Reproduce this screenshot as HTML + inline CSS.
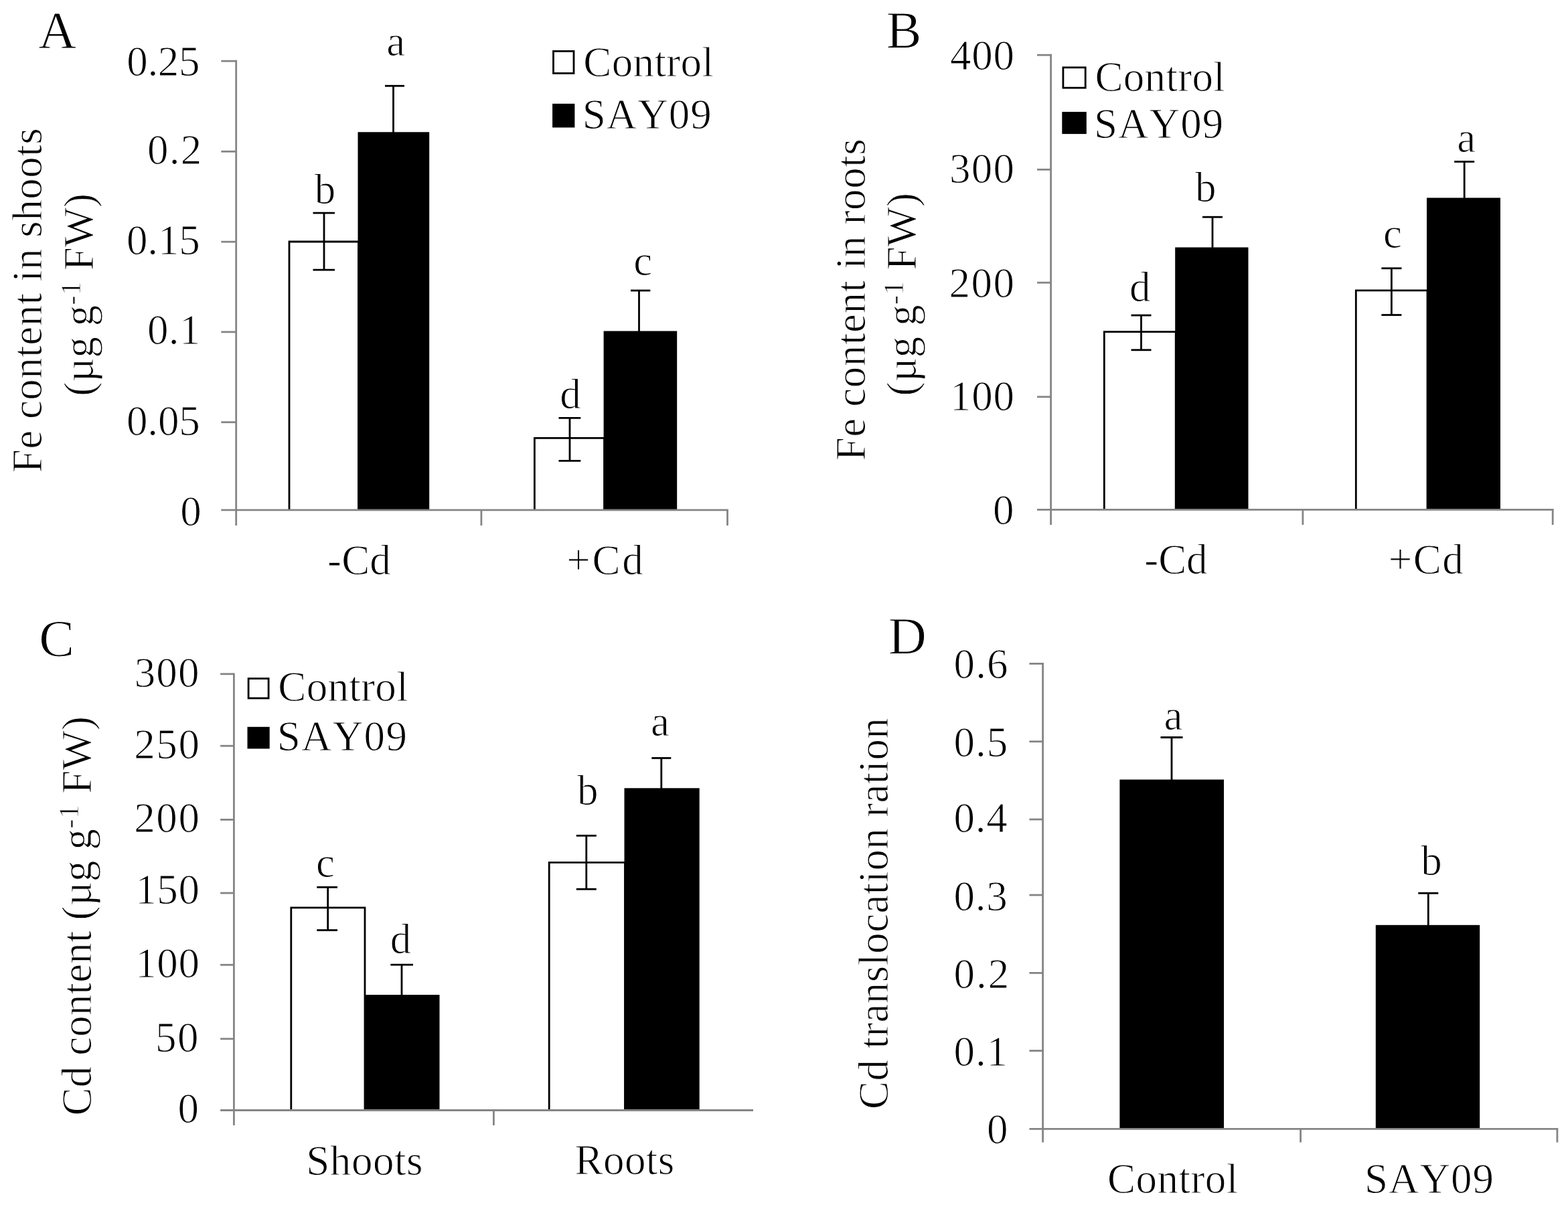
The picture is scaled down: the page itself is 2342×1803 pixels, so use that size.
<!DOCTYPE html>
<html lang="en">
<head>
<meta charset="utf-8">
<title>Fe and Cd content in shoots and roots</title>
<style>
html,body{margin:0;padding:0;background:#fff;}
body{width:2342px;height:1803px;}
svg{display:block;}
svg text{font-family:'Liberation Serif', 'Times New Roman', serif;fill:#000;stroke:#fff;stroke-width:1px;font-kerning:none;white-space:pre;}
</style>
</head>
<body>
<svg width="2342" height="1803" viewBox="0 0 2342 1803" role="img" aria-label="Bar charts A-D: Fe content in shoots and roots, Cd content, and Cd translocation ratio for Control and SAY09">
<rect x="0" y="0" width="2342" height="1803" fill="#fff"/>
<g id="panel-A">
<path d="M432 761.9V361H535.5V761.9" fill="#fff" stroke="#000" stroke-width="2.8" stroke-linejoin="miter"/>
<path d="M798.4 761.9V654.3H902.6V761.9" fill="#fff" stroke="#000" stroke-width="2.8" stroke-linejoin="miter"/>
<rect x="534.5" y="197.3" width="106.7" height="564.6" fill="#000"/>
<rect x="901.6" y="494.5" width="109.6" height="267.4" fill="#000"/>
<line x1="484" y1="318.2" x2="484" y2="403.2" stroke="#000" stroke-width="2.8"/>
<line x1="467.5" y1="403.2" x2="500" y2="403.2" stroke="#000" stroke-width="2.8"/>
<line x1="467.5" y1="318.2" x2="500" y2="318.2" stroke="#000" stroke-width="2.8"/>
<line x1="587.5" y1="128.3" x2="587.5" y2="198.3" stroke="#000" stroke-width="2.8"/>
<line x1="575" y1="128.3" x2="604" y2="128.3" stroke="#000" stroke-width="2.8"/>
<line x1="851" y1="624.3" x2="851" y2="688.4" stroke="#000" stroke-width="2.8"/>
<line x1="834.5" y1="688.4" x2="867.3" y2="688.4" stroke="#000" stroke-width="2.8"/>
<line x1="834.5" y1="624.3" x2="867.3" y2="624.3" stroke="#000" stroke-width="2.8"/>
<line x1="954.5" y1="434" x2="954.5" y2="495.5" stroke="#000" stroke-width="2.8"/>
<line x1="942" y1="434" x2="971.3" y2="434" stroke="#000" stroke-width="2.8"/>
<line x1="352.7" y1="89.8" x2="352.7" y2="785" stroke="#858585" stroke-width="2.8"/>
<line x1="330.3" y1="761.9" x2="1087.9" y2="761.9" stroke="#858585" stroke-width="2.8"/>
<line x1="330.3" y1="91.2" x2="352.7" y2="91.2" stroke="#858585" stroke-width="2.8"/>
<line x1="330.3" y1="226.3" x2="352.7" y2="226.3" stroke="#858585" stroke-width="2.8"/>
<line x1="330.3" y1="361.2" x2="352.7" y2="361.2" stroke="#858585" stroke-width="2.8"/>
<line x1="330.3" y1="495.9" x2="352.7" y2="495.9" stroke="#858585" stroke-width="2.8"/>
<line x1="330.3" y1="630.7" x2="352.7" y2="630.7" stroke="#858585" stroke-width="2.8"/>
<line x1="718.9" y1="761.9" x2="718.9" y2="785" stroke="#858585" stroke-width="2.8"/>
<line x1="1086.5" y1="761.9" x2="1086.5" y2="785" stroke="#858585" stroke-width="2.8"/>
<rect x="826.5" y="76.5" width="30.5" height="33" fill="#fff" stroke="#000" stroke-width="2.8"/>
<rect x="825.1" y="154.9" width="33.3" height="35.6" fill="#000"/>
<text x="189.3" y="113.25" font-size="63" letter-spacing="-0.36">0.25</text>
<text x="220.1" y="244.75" font-size="63" letter-spacing="1.26">0.2</text>
<text x="189.1" y="379.85" font-size="63" letter-spacing="-0.23">0.15</text>
<text x="220" y="514.25" font-size="63" letter-spacing="0.37">0.1</text>
<text x="189" y="650.25" font-size="63" letter-spacing="-0.13">0.05</text>
<text x="269.25" y="784.75" font-size="63">0</text>
<text x="577.24" y="83.45" font-size="63">a</text>
<text x="469.8" y="304.25" font-size="63">b</text>
<text x="946.19" y="411.05" font-size="63">c</text>
<text x="836.25" y="609.75" font-size="63">d</text>
<text x="57.23" y="70.85" font-size="79">A</text>
<text x="871.32" y="113.55" font-size="63" letter-spacing="0.36">Control</text>
<text x="869.69" y="192.25" font-size="63" letter-spacing="1.02">SAY09</text>
<text x="489.06" y="857.85" font-size="63" letter-spacing="0.1">-Cd</text>
<text x="846.26" y="857.85" font-size="63" letter-spacing="2.73">+Cd</text>
<text transform="translate(61.5 706.31) rotate(-90)" font-size="63" letter-spacing="0.49">Fe content in shoots</text>
<text transform="translate(139 591.67) rotate(-90)" font-size="63" letter-spacing="-0.04"><tspan font-size="63">(µg g</tspan><tspan font-size="43" dy="-19">-1</tspan><tspan font-size="63" dy="19"> FW)</tspan></text>
</g>
<g id="panel-B">
<path d="M1649.3 761.4V495.6H1756.2V761.4" fill="#fff" stroke="#000" stroke-width="2.8" stroke-linejoin="miter"/>
<path d="M2025.3 761.4V433.9H2132V761.4" fill="#fff" stroke="#000" stroke-width="2.8" stroke-linejoin="miter"/>
<rect x="1755.2" y="369.5" width="109.3" height="391.9" fill="#000"/>
<rect x="2131" y="295.5" width="110" height="465.9" fill="#000"/>
<line x1="1704.5" y1="471" x2="1704.5" y2="522.8" stroke="#000" stroke-width="2.8"/>
<line x1="1689.5" y1="522.8" x2="1719.5" y2="522.8" stroke="#000" stroke-width="2.8"/>
<line x1="1689.5" y1="471" x2="1719.5" y2="471" stroke="#000" stroke-width="2.8"/>
<line x1="1811" y1="324.2" x2="1811" y2="370.5" stroke="#000" stroke-width="2.8"/>
<line x1="1796" y1="324.2" x2="1826" y2="324.2" stroke="#000" stroke-width="2.8"/>
<line x1="2078.4" y1="400.8" x2="2078.4" y2="470.5" stroke="#000" stroke-width="2.8"/>
<line x1="2063.4" y1="470.5" x2="2093.4" y2="470.5" stroke="#000" stroke-width="2.8"/>
<line x1="2063.4" y1="400.8" x2="2093.4" y2="400.8" stroke="#000" stroke-width="2.8"/>
<line x1="2187.2" y1="241.5" x2="2187.2" y2="296.5" stroke="#000" stroke-width="2.8"/>
<line x1="2172.2" y1="241.5" x2="2202.2" y2="241.5" stroke="#000" stroke-width="2.8"/>
<line x1="1569.6" y1="80.8" x2="1569.6" y2="784" stroke="#858585" stroke-width="2.8"/>
<line x1="1549" y1="761.4" x2="2320.6" y2="761.4" stroke="#858585" stroke-width="2.8"/>
<line x1="1549" y1="82.2" x2="1569.6" y2="82.2" stroke="#858585" stroke-width="2.8"/>
<line x1="1549" y1="253.3" x2="1569.6" y2="253.3" stroke="#858585" stroke-width="2.8"/>
<line x1="1549" y1="422.2" x2="1569.6" y2="422.2" stroke="#858585" stroke-width="2.8"/>
<line x1="1549" y1="592.8" x2="1569.6" y2="592.8" stroke="#858585" stroke-width="2.8"/>
<line x1="1945.9" y1="761.4" x2="1945.9" y2="784" stroke="#858585" stroke-width="2.8"/>
<line x1="2319.2" y1="761.4" x2="2319.2" y2="784" stroke="#858585" stroke-width="2.8"/>
<rect x="1587.9" y="100.8" width="33.3" height="30.4" fill="#fff" stroke="#000" stroke-width="2.8"/>
<rect x="1586.3" y="167.1" width="36.5" height="33" fill="#000"/>
<text x="1419.07" y="104.25" font-size="63" letter-spacing="0.66">400</text>
<text x="1417.89" y="272.85" font-size="63" letter-spacing="1.26">300</text>
<text x="1417.53" y="444.05" font-size="63" letter-spacing="1.43">200</text>
<text x="1419.06" y="612.55" font-size="63" letter-spacing="0.67">100</text>
<text x="1482.95" y="783.45" font-size="63">0</text>
<text x="1686.95" y="449.75" font-size="63">d</text>
<text x="1784.95" y="300.75" font-size="63">b</text>
<text x="2065.99" y="370.05" font-size="63">c</text>
<text x="2176.34" y="226.75" font-size="63">a</text>
<text x="1323.64" y="71.25" font-size="79">B</text>
<text x="1635.52" y="135.65" font-size="63" letter-spacing="0.29">Control</text>
<text x="1633.89" y="205.75" font-size="63" letter-spacing="1.09">SAY09</text>
<text x="1709.36" y="856.85" font-size="63" letter-spacing="-0.2">-Cd</text>
<text x="2073.66" y="856.85" font-size="63" letter-spacing="1.58">+Cd</text>
<text transform="translate(1291.8 688.31) rotate(-90)" font-size="63" letter-spacing="0.58">Fe content in roots</text>
<text transform="translate(1367.7 591.57) rotate(-90)" font-size="63" letter-spacing="0.05"><tspan font-size="63">(µg g</tspan><tspan font-size="43" dy="-19">-1</tspan><tspan font-size="63" dy="19"> FW)</tspan></text>
</g>
<g id="panel-C">
<path d="M434.8 1658.5V1355.9H545V1658.5" fill="#fff" stroke="#000" stroke-width="2.8" stroke-linejoin="miter"/>
<path d="M820.2 1658.5V1288.3H933.5V1658.5" fill="#fff" stroke="#000" stroke-width="2.8" stroke-linejoin="miter"/>
<rect x="544" y="1486" width="112.5" height="172.5" fill="#000"/>
<rect x="932.5" y="1177.3" width="112.2" height="481.2" fill="#000"/>
<line x1="489.7" y1="1325.3" x2="489.7" y2="1389.5" stroke="#000" stroke-width="2.8"/>
<line x1="473.3" y1="1389.5" x2="504" y2="1389.5" stroke="#000" stroke-width="2.8"/>
<line x1="473.3" y1="1325.3" x2="504" y2="1325.3" stroke="#000" stroke-width="2.8"/>
<line x1="600" y1="1441.2" x2="600" y2="1487" stroke="#000" stroke-width="2.8"/>
<line x1="583.3" y1="1441.2" x2="617" y2="1441.2" stroke="#000" stroke-width="2.8"/>
<line x1="875.8" y1="1248.3" x2="875.8" y2="1328.2" stroke="#000" stroke-width="2.8"/>
<line x1="860.8" y1="1328.2" x2="890.8" y2="1328.2" stroke="#000" stroke-width="2.8"/>
<line x1="860.8" y1="1248.3" x2="890.8" y2="1248.3" stroke="#000" stroke-width="2.8"/>
<line x1="987.8" y1="1132.4" x2="987.8" y2="1178.3" stroke="#000" stroke-width="2.8"/>
<line x1="973.3" y1="1132.4" x2="1002.3" y2="1132.4" stroke="#000" stroke-width="2.8"/>
<line x1="349.4" y1="1005.4" x2="349.4" y2="1681" stroke="#858585" stroke-width="2.8"/>
<line x1="329.1" y1="1658.5" x2="1125" y2="1658.5" stroke="#858585" stroke-width="2.8"/>
<line x1="329.1" y1="1006.8" x2="349.4" y2="1006.8" stroke="#858585" stroke-width="2.8"/>
<line x1="329.1" y1="1114.2" x2="349.4" y2="1114.2" stroke="#858585" stroke-width="2.8"/>
<line x1="329.1" y1="1224.4" x2="349.4" y2="1224.4" stroke="#858585" stroke-width="2.8"/>
<line x1="329.1" y1="1334" x2="349.4" y2="1334" stroke="#858585" stroke-width="2.8"/>
<line x1="329.1" y1="1441.3" x2="349.4" y2="1441.3" stroke="#858585" stroke-width="2.8"/>
<line x1="329.1" y1="1551.8" x2="349.4" y2="1551.8" stroke="#858585" stroke-width="2.8"/>
<line x1="737.4" y1="1658.5" x2="737.4" y2="1681" stroke="#858585" stroke-width="2.8"/>
<rect x="371.1" y="1013.6" width="30" height="29.4" fill="#fff" stroke="#000" stroke-width="2.8"/>
<rect x="369.5" y="1085.8" width="33.2" height="32.6" fill="#000"/>
<text x="200.69" y="1026.25" font-size="63" letter-spacing="1.11">300</text>
<text x="200.33" y="1133.35" font-size="63" letter-spacing="1.53">250</text>
<text x="200.33" y="1243.25" font-size="63" letter-spacing="1.53">200</text>
<text x="202.16" y="1350.05" font-size="63" letter-spacing="0.62">150</text>
<text x="202.16" y="1459.85" font-size="63" letter-spacing="0.62">100</text>
<text x="232.04" y="1571.25" font-size="63" letter-spacing="1.56">50</text>
<text x="265.4" y="1677.25" font-size="63">0</text>
<text x="471.89" y="1310.35" font-size="63">c</text>
<text x="582.85" y="1424.25" font-size="63">d</text>
<text x="861.9" y="1201.65" font-size="63">b</text>
<text x="971.99" y="1099.35" font-size="63">a</text>
<text x="58.31" y="979.75" font-size="79">C</text>
<text x="415.32" y="1047.45" font-size="63" letter-spacing="0.31">Control</text>
<text x="413.69" y="1121.35" font-size="63" letter-spacing="1.29">SAY09</text>
<text x="457.29" y="1754.65" font-size="63" letter-spacing="0.55">Shoots</text>
<text x="858.59" y="1753.85" font-size="63" letter-spacing="0.41">Roots</text>
<text transform="translate(135.6 1666.48) rotate(-90)" font-size="63" letter-spacing="0.14"><tspan font-size="63">Cd content (µg g</tspan><tspan font-size="43" dy="-19">-1</tspan><tspan font-size="63" dy="19"> FW)</tspan></text>
</g>
<g id="panel-D">
<rect x="1672.4" y="1164.5" width="155.6" height="521.8" fill="#000"/>
<rect x="2054.8" y="1381.8" width="155.4" height="304.5" fill="#000"/>
<line x1="1750" y1="1101.5" x2="1750" y2="1165.5" stroke="#000" stroke-width="2.8"/>
<line x1="1733.5" y1="1101.5" x2="1766.5" y2="1101.5" stroke="#000" stroke-width="2.8"/>
<line x1="2133.3" y1="1334.2" x2="2133.3" y2="1382.8" stroke="#000" stroke-width="2.8"/>
<line x1="2118.3" y1="1334.2" x2="2148.3" y2="1334.2" stroke="#000" stroke-width="2.8"/>
<line x1="1557.6" y1="990" x2="1557.6" y2="1706.5" stroke="#858585" stroke-width="2.8"/>
<line x1="1537.4" y1="1686.3" x2="2327.3" y2="1686.3" stroke="#858585" stroke-width="2.8"/>
<line x1="1537.4" y1="991.4" x2="1557.6" y2="991.4" stroke="#858585" stroke-width="2.8"/>
<line x1="1537.4" y1="1107.7" x2="1557.6" y2="1107.7" stroke="#858585" stroke-width="2.8"/>
<line x1="1537.4" y1="1224" x2="1557.6" y2="1224" stroke="#858585" stroke-width="2.8"/>
<line x1="1537.4" y1="1337" x2="1557.6" y2="1337" stroke="#858585" stroke-width="2.8"/>
<line x1="1537.4" y1="1453.4" x2="1557.6" y2="1453.4" stroke="#858585" stroke-width="2.8"/>
<line x1="1537.4" y1="1569.6" x2="1557.6" y2="1569.6" stroke="#858585" stroke-width="2.8"/>
<line x1="1942.6" y1="1686.3" x2="1942.6" y2="1706.5" stroke="#858585" stroke-width="2.8"/>
<line x1="2325.9" y1="1686.3" x2="2325.9" y2="1706.5" stroke="#858585" stroke-width="2.8"/>
<text x="1424.6" y="1013.35" font-size="63" letter-spacing="1.11">0.6</text>
<text x="1424.6" y="1129.95" font-size="63" letter-spacing="0.91">0.5</text>
<text x="1424.6" y="1242.85" font-size="63" letter-spacing="0.67">0.4</text>
<text x="1424.6" y="1359.55" font-size="63" letter-spacing="0.66">0.3</text>
<text x="1424.6" y="1475.65" font-size="63" letter-spacing="1.91">0.2</text>
<text x="1424.6" y="1592.25" font-size="63" letter-spacing="0.82">0.1</text>
<text x="1473.95" y="1708.15" font-size="63">0</text>
<text x="1738.54" y="1090.45" font-size="63">a</text>
<text x="2122.3" y="1306.65" font-size="63">b</text>
<text x="1326.67" y="975.95" font-size="79">D</text>
<text x="1653.92" y="1782.25" font-size="63" letter-spacing="0.49">Control</text>
<text x="2037.99" y="1782.25" font-size="63" letter-spacing="0.99">SAY09</text>
<text transform="translate(1326 1656.88) rotate(-90)" font-size="63" letter-spacing="0.33">Cd translocation ration</text>
</g>
</svg>
</body>
</html>
